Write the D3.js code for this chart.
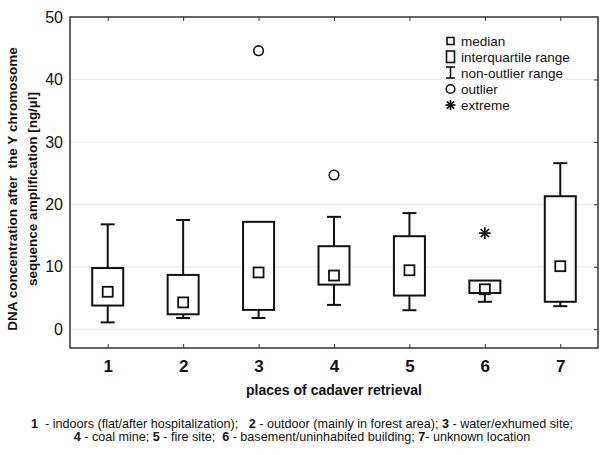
<!DOCTYPE html>
<html>
<head>
<meta charset="utf-8">
<script src="https://cdn.jsdelivr.net/npm/d3@7"></script>
<style>
  body { margin: 0; background: #fff; }
  svg { display: block; font-family: "Liberation Sans", Arial, sans-serif; }
  .grid line { stroke: #e8e8e8; stroke-width: 1; }
  .frame { fill: none; stroke: #333; stroke-width: 1.5; }
  .axis path { display: none; }
  .axis line { stroke: #333; stroke-width: 1; }
</style>
</head>
<body>
<svg id="chart" width="604" height="455"></svg>
<script>
// values (ng/ul)
var categories = [1, 2, 3, 4, 5, 6, 7];
var medians = [6.0, 4.3, 9.1, 8.6, 9.45, 6.4, 10.1];
var q1 = [3.8, 2.4, 3.1, 7.15, 5.4, 5.8, 4.4];
var q3 = [9.8, 8.7, 17.2, 13.3, 14.9, 7.8, 21.3];
var whiskerLow = [1.1, 1.8, 1.8, 3.9, 3.05, 4.4, 3.7];
var whiskerHigh = [16.8, 17.5, 17.2, 18.0, 18.6, 7.8, 26.6];
var outlierCats = [3, 4];
var outlierValues = [44.6, 24.7];
var extremeCats = [6];
var extremeValues = [15.4];
var yTicks = [0, 10, 20, 30, 40, 50];
var gridTicks = [0, 10, 20, 30, 40];
var legendLabels = ['median', 'interquartile range', 'non-outlier range', 'outlier', 'extreme'];

var svg = d3.select('#chart');
var plotLeft = 70, plotRight = 598, plotTop = 17, plotBottom = 348;

var x = d3.scaleLinear().domain([0.5, 7.5]).range([plotLeft, plotRight]);
var y = d3.scaleLinear().domain([-3, 50]).range([plotBottom, plotTop]);

// grid lines
svg.append('g').attr('class', 'grid')
  .selectAll('line').data(gridTicks).enter().append('line')
  .attr('x1', plotLeft).attr('x2', plotRight)
  .attr('y1', function(d) { return y(d); })
  .attr('y2', function(d) { return y(d); });

// inner ticks on top, bottom and right
svg.append('g').attr('class', 'axis')
  .attr('transform', 'translate(0,' + plotTop + ')')
  .call(d3.axisBottom(x).tickValues(categories).tickSize(4).tickFormat(''));
svg.append('g').attr('class', 'axis')
  .attr('transform', 'translate(0,' + plotBottom + ')')
  .call(d3.axisTop(x).tickValues(categories).tickSize(4).tickFormat(''));
svg.append('g').attr('class', 'axis')
  .attr('transform', 'translate(' + plotRight + ',0)')
  .call(d3.axisLeft(y).tickValues(gridTicks).tickSize(4).tickFormat(''));

// tick labels
var yAxis = svg.append('g').attr('class', 'axis')
  .attr('transform', 'translate(' + plotLeft + ',0)')
  .call(d3.axisLeft(y).tickValues(yTicks).tickSize(0).tickPadding(7));
yAxis.selectAll('text').attr('font-size', 16).attr('fill', '#111')
  .attr('font-family', '"Liberation Sans", Arial, sans-serif');

var xAxis = svg.append('g').attr('class', 'axis')
  .attr('transform', 'translate(0,' + plotBottom + ')')
  .call(d3.axisBottom(x).tickValues(categories).tickSize(0).tickPadding(12).tickFormat(d3.format('d')));
xAxis.selectAll('text').attr('font-size', 17).attr('font-weight', 'bold').attr('fill', '#111')
  .attr('font-family', '"Liberation Sans", Arial, sans-serif');

// frame
svg.append('rect').attr('class', 'frame')
  .attr('x', plotLeft).attr('y', plotTop)
  .attr('width', plotRight - plotLeft).attr('height', plotBottom - plotTop);

// boxes
var boxW = 31, capW = 14, medS = 10;
var g = svg.append('g').attr('stroke', '#111').attr('stroke-width', 2).attr('fill', 'none');

categories.forEach(function(c, i) {
  var cx = x(c);
  // upper whisker
  if (whiskerHigh[i] > q3[i]) {
    g.append('line').attr('x1', cx).attr('x2', cx).attr('y1', y(q3[i])).attr('y2', y(whiskerHigh[i]));
    g.append('line').attr('x1', cx - capW / 2).attr('x2', cx + capW / 2)
      .attr('y1', y(whiskerHigh[i])).attr('y2', y(whiskerHigh[i]));
  }
  // lower whisker
  if (whiskerLow[i] < q1[i]) {
    g.append('line').attr('x1', cx).attr('x2', cx).attr('y1', y(q1[i])).attr('y2', y(whiskerLow[i]));
    g.append('line').attr('x1', cx - capW / 2).attr('x2', cx + capW / 2)
      .attr('y1', y(whiskerLow[i])).attr('y2', y(whiskerLow[i]));
  }
  g.append('rect').attr('x', cx - boxW / 2).attr('y', y(q3[i]))
    .attr('width', boxW).attr('height', y(q1[i]) - y(q3[i])).attr('fill', '#fff');
  g.append('rect').attr('x', cx - medS / 2).attr('y', y(medians[i]) - medS / 2)
    .attr('width', medS).attr('height', medS).attr('stroke-width', 1.8);
});

// outliers
outlierCats.forEach(function(c, i) {
  g.append('circle').attr('cx', x(c)).attr('cy', y(outlierValues[i])).attr('r', 4.8).attr('stroke-width', 1.6);
});

// extremes (asterisk)
function asterisk(sel, cx, cy, r) {
  for (var k = 0; k < 4; k++) {
    var a = k * Math.PI / 4;
    sel.append('line')
      .attr('x1', cx - r * Math.sin(a)).attr('y1', cy - r * Math.cos(a))
      .attr('x2', cx + r * Math.sin(a)).attr('y2', cy + r * Math.cos(a))
      .attr('stroke-width', 1.7);
  }
}
extremeCats.forEach(function(c, i) {
  asterisk(g, x(c), y(extremeValues[i]), 5.8);
});

// legend
var lx = 450.5, ly = 41, lstep = 16;
var lg = svg.append('g').attr('stroke', '#111').attr('fill', 'none').attr('stroke-width', 1.6);
lg.append('rect').attr('x', lx - 3.5).attr('y', ly - 3.5).attr('width', 7).attr('height', 7);
lg.append('rect').attr('x', lx - 4).attr('y', ly + lstep - 6).attr('width', 8).attr('height', 11.5);
lg.append('line').attr('x1', lx).attr('x2', lx).attr('y1', ly + 2 * lstep - 6).attr('y2', ly + 2 * lstep + 5);
lg.append('line').attr('x1', lx - 4.5).attr('x2', lx + 4.5).attr('y1', ly + 2 * lstep - 6).attr('y2', ly + 2 * lstep - 6);
lg.append('line').attr('x1', lx - 4.5).attr('x2', lx + 4.5).attr('y1', ly + 2 * lstep + 5).attr('y2', ly + 2 * lstep + 5);
lg.append('circle').attr('cx', lx).attr('cy', ly + 3 * lstep).attr('r', 4.3);
asterisk(lg, lx, ly + 4 * lstep, 5);

svg.append('g').selectAll('text').data(legendLabels).enter().append('text')
  .attr('x', 461).attr('y', function(d, i) { return ly + i * lstep + 4.8; })
  .attr('font-size', 13.5).attr('fill', '#111')
  .text(function(d) { return d; });

// axis titles
svg.append('text')
  .attr('x', (plotLeft + plotRight) / 2).attr('y', 395)
  .attr('text-anchor', 'middle').attr('font-size', 14).attr('font-weight', 'bold').attr('fill', '#111')
  .text('places of cadaver retrieval');

var yt = svg.append('text')
  .attr('transform', 'translate(0,189) rotate(-90)')
  .attr('text-anchor', 'middle').attr('font-size', 13.5).attr('font-weight', 'bold').attr('fill', '#111')
  .style('white-space', 'pre');
yt.append('tspan').attr('x', 0).attr('y', 17).text('DNA concentration after  the Y chromosome');
yt.append('tspan').attr('x', 0).attr('y', 37).text('sequence amplification [ng/\u00b5l]');

// caption
var captionLines = [
  [['1', true], ['  - indoors (flat/after hospitalization);   ', false], ['2', true],
   [' - outdoor (mainly in forest area); ', false], ['3', true], [' - water/exhumed site;', false]],
  [['4', true], [' - coal mine; ', false], ['5', true], [' - fire site;  ', false], ['6', true],
   [' - basement/uninhabited building; ', false], ['7', true], ['- unknown location', false]]
];
captionLines.forEach(function(parts, i) {
  var t = svg.append('text')
    .attr('x', 302).attr('y', 428 + i * 12.5)
    .attr('text-anchor', 'middle').attr('font-size', 12.6).attr('fill', '#111')
    .style('white-space', 'pre');
  parts.forEach(function(p) {
    t.append('tspan').attr('font-weight', p[1] ? 'bold' : 'normal').text(p[0]);
  });
});
</script>
</body>
</html>
